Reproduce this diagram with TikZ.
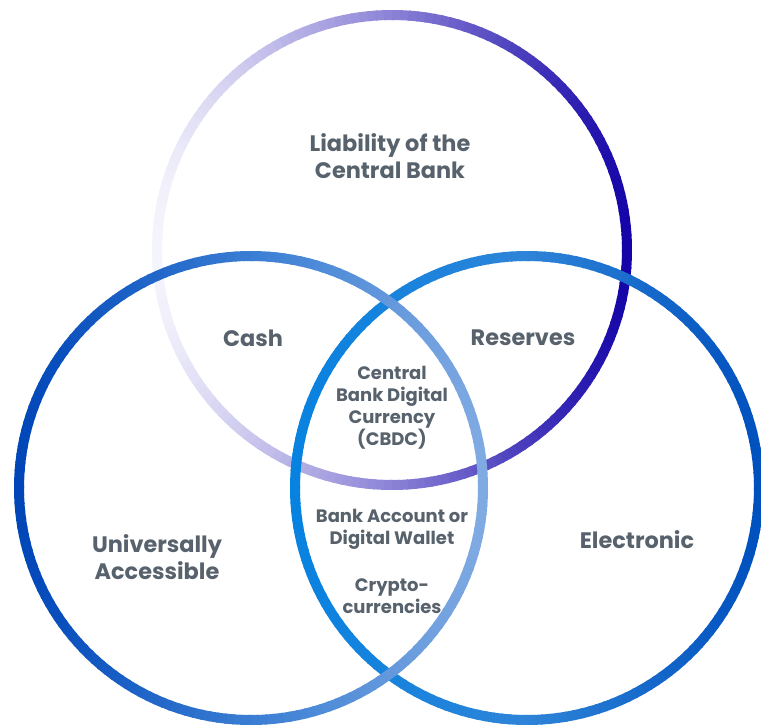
\documentclass[tikz,border=0pt]{standalone}
\usepackage{fontspec}
\setmainfont{Poppins}
\definecolor{txt}{HTML}{57626C}
\definecolor{topL}{HTML}{F4F4FC}
\definecolor{topM}{HTML}{8B82D6}
\definecolor{topR}{HTML}{1505A8}
\definecolor{lftL}{HTML}{0046B8}
\definecolor{lftM}{HTML}{3A7ED4}
\definecolor{lftR}{HTML}{80AAE2}
\definecolor{rgtL}{HTML}{0882E0}
\definecolor{rgtM}{HTML}{2E84D8}
\definecolor{rgtR}{HTML}{0050BE}
\newcommand{\gradring}[6]{%
  \foreach \a in {0,2,...,358}{%
    \pgfmathsetmacro\tt{(1+cos(\a+1))/2}%
    \ifdim\tt pt<0.5pt
      \pgfmathtruncatemacro\pp{round(200*\tt)}%
      \colorlet{segcol}{#5!\pp!#4}%
    \else
      \pgfmathtruncatemacro\pp{round(200*\tt-100)}%
      \colorlet{segcol}{#6!\pp!#5}%
    \fi
    \draw[ring, segcol] (#1,#2) ++(\a:#3) arc[start angle=\a, end angle=\a+2.5, radius=#3];
  }%
}
\tikzset{
  ring/.style={line width=10pt, line cap=butt},
  big/.style={text=txt, font=\bfseries\fontsize{22.4}{27}\selectfont, align=center, inner sep=0pt},
  small/.style={text=txt, font=\bfseries\fontsize{18}{22}\selectfont, align=center, inner sep=0pt}
}
\begin{document}
\begin{tikzpicture}[x=1pt,y=-1pt]
\useasboundingbox (0,0) rectangle (761,725);
\gradring{392}{250}{235}{topL}{topM}{topR}
\gradring{527}{488}{232}{rgtL}{rgtM}{rgtR}
\gradring{251}{488}{232}{lftL}{lftM}{lftR}
\node[big] (liab) at (390,156) {Liability of the\\Central Bank};
\node[big] (cash) at (253,338) {Cash};
\node[big] (res) at (523,338) {Reserves};
\node[big] (univ) at (157,557) {Universally\\Accessible};
\node[big] (elec) at (637,540) {Electronic};
\node[small] (cbdc) at (392,408) {Central\\Bank Digital\\Currency\\(CBDC)};
\node[small] (bank) at (392,529) {Bank Account or\\Digital Wallet};
\node[small] (crypto) at (392,596) {Crypto-\\currencies};
\end{tikzpicture}
\end{document}
